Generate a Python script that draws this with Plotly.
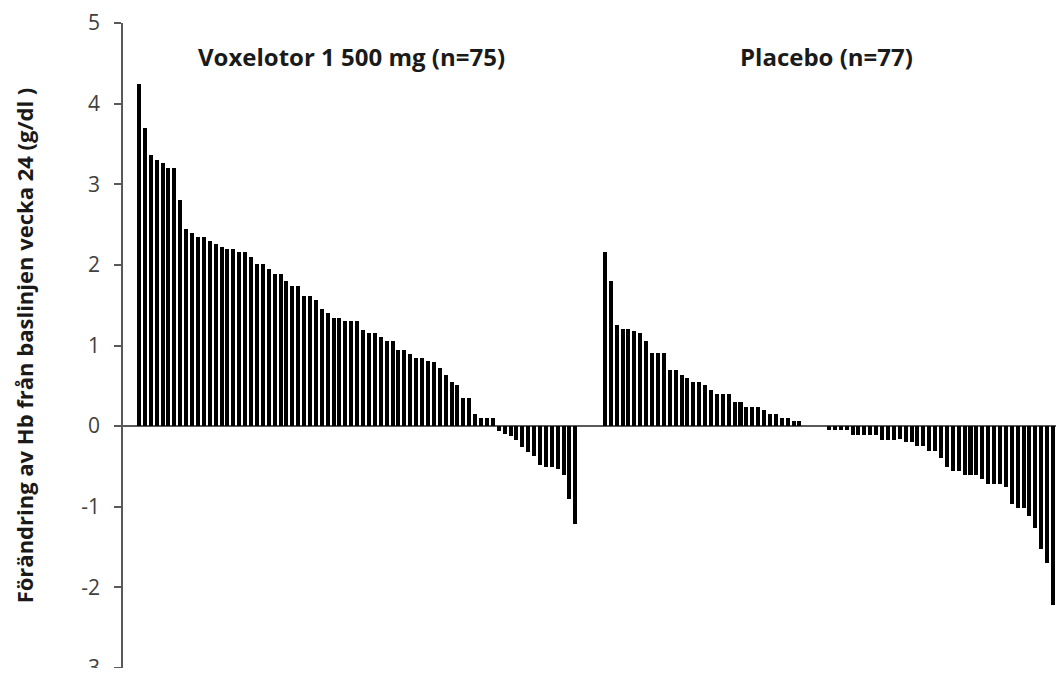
import plotly.graph_objects as go

# Change in Hb from baseline to week 24 (g/dl), sorted per patient
voxelotor = [4.24, 3.70, 3.36, 3.30, 3.26, 3.20, 3.20, 2.80, 2.44, 2.40,
             2.35, 2.35, 2.30, 2.26, 2.22, 2.20, 2.20, 2.16, 2.16, 2.10,
             2.01, 2.01, 1.95, 1.89, 1.89, 1.80, 1.74, 1.74, 1.61, 1.61,
             1.57, 1.45, 1.40, 1.34, 1.34, 1.30, 1.30, 1.30, 1.19, 1.15,
             1.15, 1.10, 1.06, 1.06, 0.94, 0.94, 0.90, 0.85, 0.85, 0.81,
             0.79, 0.72, 0.64, 0.55, 0.51, 0.35, 0.35, 0.15, 0.10, 0.10,
             0.10, -0.06, -0.10, -0.12, -0.17, -0.26, -0.32, -0.37, -0.48, -0.51,
             -0.51, -0.53, -0.60, -0.91, -1.21]

placebo = [2.16, 1.80, 1.25, 1.20, 1.20, 1.18, 1.15, 1.06, 0.91, 0.91,
           0.91, 0.70, 0.70, 0.64, 0.60, 0.55, 0.55, 0.51, 0.45, 0.40,
           0.40, 0.40, 0.30, 0.30, 0.24, 0.24, 0.24, 0.20, 0.15, 0.15,
           0.10, 0.10, 0.06, 0.06, 0.0, 0.0, 0.0, 0.0, -0.05, -0.05,
           -0.05, -0.05, -0.11, -0.11, -0.11, -0.11, -0.11, -0.17, -0.17, -0.17,
           -0.16, -0.20, -0.20, -0.25, -0.25, -0.31, -0.31, -0.40, -0.51, -0.56,
           -0.56, -0.60, -0.60, -0.60, -0.66, -0.72, -0.72, -0.72, -0.76, -0.96,
           -1.02, -1.02, -1.11, -1.26, -1.52, -1.70, -2.22]

group_labels = ["Voxelotor 1 500 mg (n=75)", "Placebo (n=77)"]
y_title = "Förändring av Hb från baslinjen vecka 24 (g/dl )"
y_ticks = [-3, -2, -1, 0, 1, 2, 3, 4, 5]

# slot positions: leading gap of 2, gap of 4 empty slots between groups
lead = 2
gap = 4
x_vox = [lead + i for i in range(len(voxelotor))]
start_pl = lead + len(voxelotor) + gap
x_pl = [start_pl + i for i in range(len(placebo))]

fig = go.Figure()
fig.add_trace(go.Bar(x=x_vox, y=voxelotor, width=0.68,
                     marker=dict(color="#000000", line=dict(width=0)),
                     showlegend=False))
fig.add_trace(go.Bar(x=x_pl, y=placebo, width=0.68,
                     marker=dict(color="#000000", line=dict(width=0)),
                     showlegend=False))

font_family = "Open Sans, Noto Sans, sans-serif"

fig.add_annotation(x=(x_vox[0] + x_vox[-1]) / 2 - 1, y=4.58, text="<b>" + group_labels[0] + "</b>",
                   showarrow=False, xref="x", yref="y",
                   font=dict(family=font_family, size=24, color="#1a1a1a"))
fig.add_annotation(x=(x_pl[0] + x_pl[-1]) / 2 - 0.4, y=4.58, text="<b>" + group_labels[1] + "</b>",
                   showarrow=False, xref="x", yref="y",
                   font=dict(family=font_family, size=24, color="#1a1a1a"))

fig.update_layout(
    width=1048, height=660,
    margin=dict(l=115, r=0, t=15, b=0, autoexpand=False),
    paper_bgcolor="white", plot_bgcolor="white",
    bargap=0,
    font=dict(family=font_family),
    xaxis=dict(range=[-0.71, 157.5], visible=False, showgrid=False, zeroline=False),
    yaxis=dict(range=[-3, 5], tickvals=y_ticks, ticktext=[str(v) for v in y_ticks],
               automargin=False, ticklabeloverflow="allow",
               showgrid=False, zeroline=True, zerolinecolor="#595959", zerolinewidth=1.5,
               showline=True, linecolor="#595959", linewidth=1.5,
               ticks="outside", ticklen=7, tickcolor="#595959", tickwidth=1.5,
               ticklabelstandoff=10,
               tickfont=dict(family=font_family, size=21, color="#404040"),
               title=dict(text="<b>" + y_title + "</b>", standoff=42,
                          font=dict(family=font_family, size=22, color="#1a1a1a"))),
)

fig.write_html("out.html")
